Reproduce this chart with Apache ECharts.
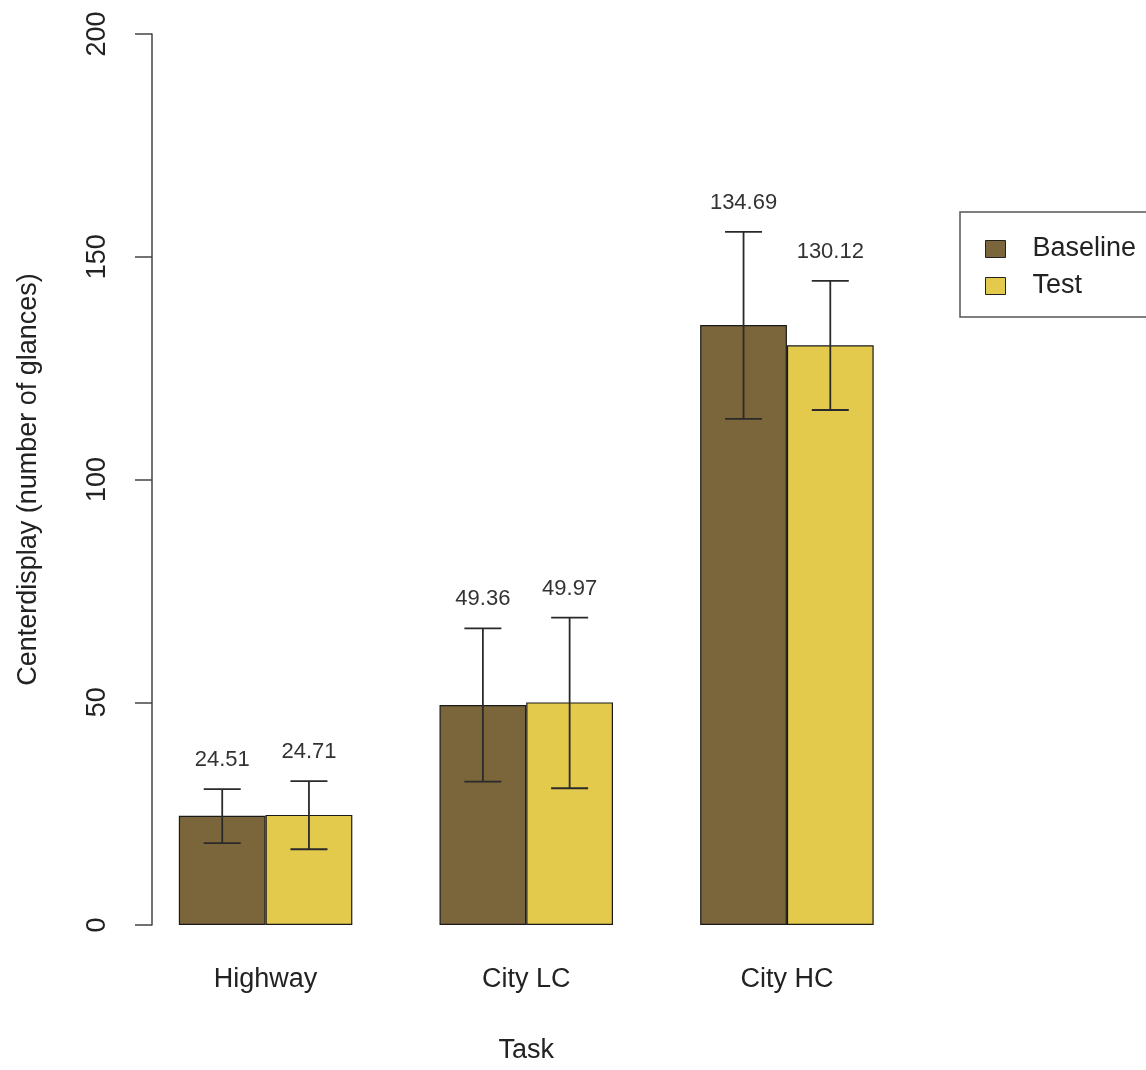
<!DOCTYPE html>
<html><head><meta charset="utf-8">
<script src="https://cdn.jsdelivr.net/npm/echarts@6/dist/echarts.min.js"></script>
<style>html,body{margin:0;padding:0;background:#fff}#c{width:1146px;height:1070px}</style>
</head><body><div id="c"></div>
<script>
const categories = ['Highway', 'City LC', 'City HC'];
const seriesNames = ['Baseline', 'Test'];
const baselineMeans = [24.51, 49.36, 134.69];
const testMeans = [24.71, 49.97, 130.12];
const baselineLow = [18.4, 32.2, 113.6];
const baselineHigh = [30.5, 66.6, 155.6];
const testLow = [17.0, 30.7, 115.6];
const testHigh = [32.3, 69.0, 144.6];
const yTicks = [0, 50, 100, 150, 200];

const FONT = '"Liberation Sans", Arial, sans-serif';
const colors = ['#7b653b', '#e3ca4d'];
const BAR_W = 86.75;

function errData(means, lows, highs) {
  return means.map((m, i) => [i, lows[i], highs[i], m]);
}
function errSeries(name, data, side) {
  return {
    type: 'custom', name: name + ' err', silent: true, z: 5,
    data: data,
    encode: { x: 0, y: [1, 2] },
    renderItem: function (params, api) {
      const i = api.value(0);
      const lo = api.coord([i, api.value(1)]);
      const hi = api.coord([i, api.value(2)]);
      const x = lo[0] + side * BAR_W / 2;
      const cap = 18.5;
      const st = { stroke: '#2a2a2a', lineWidth: 1.8 };
      return {
        type: 'group', children: [
          { type: 'line', shape: { x1: x, y1: lo[1], x2: x, y2: hi[1] }, style: st },
          { type: 'line', shape: { x1: x - cap, y1: lo[1], x2: x + cap, y2: lo[1] }, style: st },
          { type: 'line', shape: { x1: x - cap, y1: hi[1], x2: x + cap, y2: hi[1] }, style: st },
          { type: 'text', x: x, y: hi[1] - 29, style: {
              text: api.value(3).toFixed(2), fill: '#333', font: '22px ' + FONT,
              textAlign: 'center', textVerticalAlign: 'middle' } }
        ]
      };
    }
  };
}

const chart = echarts.init(document.getElementById('c'), null, { renderer: 'canvas' });
chart.setOption({
  animation: false,
  backgroundColor: '#fff',
  textStyle: { fontFamily: FONT },
  grid: { left: 135.25, width: 782, top: 34, height: 891, containLabel: false },
  legend: {
    data: seriesNames.map(n => ({ name: n, icon: 'rect' })),
    orient: 'vertical', left: 960, top: 212,
    padding: [23, 40, 17, 25], itemGap: 9,
    itemWidth: 20, itemHeight: 17,
    borderColor: '#555', borderWidth: 1.5, borderRadius: 0,
    textStyle: { fontSize: 27, color: '#222', fontFamily: FONT, padding: [0, 0, 0, 22], lineHeight: 28 },
    itemStyle: { borderColor: '#222', borderWidth: 1 }
  },
  xAxis: {
    type: 'category', data: categories,
    axisLine: { show: false }, axisTick: { show: false },
    axisLabel: { fontSize: 27, color: '#222', margin: 41, fontFamily: FONT },
    name: 'Task', nameLocation: 'middle', nameGap: 112,
    nameTextStyle: { fontSize: 27, color: '#222', fontFamily: FONT }
  },
  yAxis: {
    type: 'value', min: 0, max: 200, interval: 50, offset: -16.75,
    axisLine: { show: true, lineStyle: { color: '#444', width: 1.5 } },
    axisTick: { show: true, length: 17, lineStyle: { color: '#444', width: 1.5 } },
    splitLine: { show: false },
    axisLabel: { rotate: 90, fontSize: 27, color: '#222', margin: 41, fontFamily: FONT,
      formatter: v => yTicks.indexOf(v) >= 0 ? String(v) : '' },
    name: 'Centerdisplay (number of glances)', nameLocation: 'middle', nameGap: 110,
    nameTextStyle: { fontSize: 27, color: '#222', fontFamily: FONT }
  },
  series: [
    { type: 'bar', name: seriesNames[0], data: baselineMeans, barWidth: BAR_W, barGap: '0%',
      itemStyle: { color: colors[0], borderColor: '#1a1a1a', borderWidth: 1.2 } },
    { type: 'bar', name: seriesNames[1], data: testMeans, barWidth: BAR_W, barGap: '0%',
      itemStyle: { color: colors[1], borderColor: '#1a1a1a', borderWidth: 1.2 } },
    errSeries('Baseline', errData(baselineMeans, baselineLow, baselineHigh), -1),
    errSeries('Test', errData(testMeans, testLow, testHigh), 1)
  ]
});
</script></body></html>
